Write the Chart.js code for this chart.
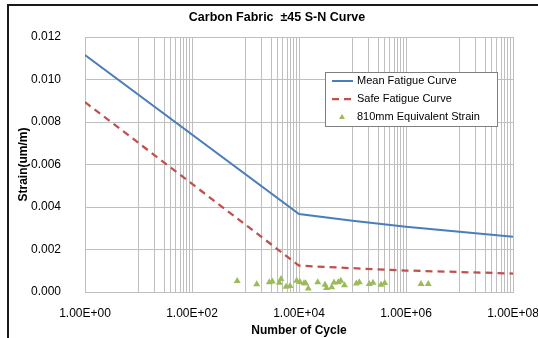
<!DOCTYPE html>
<html>
<head>
<meta charset="utf-8">
<title>Carbon Fabric ±45 S-N Curve</title>
<script src="https://cdn.jsdelivr.net/npm/chart.js@4/dist/chart.umd.min.js"></script>
<style>
  html, body { margin: 0; padding: 0; background: #fff; overflow: hidden; }
  #wrap { position: relative; width: 538px; height: 338px; }
  #chart { display: block; }
  /* outer frame of the original sheet, only top/left edges are visible */
  #frame { position: absolute; left: 7px; top: 4px; width: 600px; height: 400px;
           border-top: 2px solid #1a1a1a; border-left: 2px solid #1a1a1a; pointer-events: none; }
</style>
</head>
<body>
<div id="wrap">
  <canvas id="chart" width="538" height="338"></canvas>
  <div id="frame"></div>
</div>
<script>
// ============ DATA ============
const meanCycles = [1, 1e4, 1e5, 1e6, 1e7, 1e8];
const meanStrain = [0.01115, 0.00367, 0.00335, 0.00307, 0.00284, 0.00260];

const safeCycles = [1, 1e4, 1e5, 1e6, 1e7, 1e8];
const safeStrain = [0.00894, 0.00124, 0.00112, 0.00101, 0.00094, 0.00087];

// 810mm specimen, equivalent strain per test
const testCycles = [700, 1620, 2790, 3170, 4290, 4610, 5720, 6790, 9060, 10400,
                    12400, 13300, 14900, 22400, 30600, 32700, 40900, 45100, 54200, 60400,
                    70800, 118000, 134000, 206000, 242000, 341000, 400000, 1910000, 2610000];
const testStrain = [0.00052, 0.00036, 0.00046, 0.00049, 0.00044, 0.00061, 0.00025, 0.00028, 0.00053, 0.00047,
                    0.00041, 0.00041, 0.00017, 0.00046, 0.00034, 0.00019, 0.00022, 0.00045, 0.00046, 0.00053,
                    0.00032, 0.00040, 0.00046, 0.00038, 0.00044, 0.00034, 0.00042, 0.00038, 0.00038];

const majorTicks  = [1, 1e2, 1e4, 1e6, 1e8];
const minorSteps  = [1, 2, 3, 4, 5, 6, 7, 8, 9];   // x10 of each major
const strainTicks = [0, 0.002, 0.004, 0.006, 0.008, 0.010, 0.012];

// ============ HELPERS ============
const pts = (xs, ys) => xs.map((x, i) => ({ x: x, y: ys[i] }));

function sci(v) {
  const e = Math.round(Math.log10(v));
  return '1.00E' + (e < 0 ? '-' : '+') + String(Math.abs(e)).padStart(2, '0');
}

const cycleTicks = [];
majorTicks.forEach((m, i) => {
  cycleTicks.push(m);
  if (i < majorTicks.length - 1) minorSteps.forEach(k => cycleTicks.push(k * 10 * m));
});

const GRID = '#BFBFBF';
const FONT = "'Liberation Sans', Arial, sans-serif";
Chart.defaults.font.family = FONT;
Chart.defaults.color = '#000';

// ============ LEGEND (boxed, inside plot) ============
const boxedLegend = {
  id: 'boxedLegend',
  afterDraw(chart) {
    const ctx = chart.ctx;
    const bx = 325, by = 72, bw = 172, bh = 54;
    ctx.save();
    ctx.fillStyle = '#fff';
    ctx.fillRect(bx, by, bw, bh);
    ctx.strokeStyle = '#7F7F7F';
    ctx.lineWidth = 1;
    ctx.strokeRect(bx + 0.5, by + 0.5, bw, bh);

    ctx.font = '11px ' + FONT;
    ctx.textBaseline = 'middle';
    chart.data.datasets.forEach((ds, i) => {
      const cy = by + 9 + i * 18;
      if (ds.showLine) {
        ctx.strokeStyle = ds.borderColor;
        ctx.lineWidth = ds.borderWidth;
        ctx.setLineDash(ds.borderDash || []);
        ctx.beginPath();
        ctx.moveTo(bx + 7, cy);
        ctx.lineTo(bx + 28, cy);
        ctx.stroke();
        ctx.setLineDash([]);
      } else {
        ctx.fillStyle = ds.backgroundColor;
        ctx.beginPath();
        ctx.moveTo(bx + 17, cy - 3);
        ctx.lineTo(bx + 20, cy + 2);
        ctx.lineTo(bx + 14, cy + 2);
        ctx.closePath();
        ctx.fill();
      }
      ctx.fillStyle = '#000';
      ctx.fillText(ds.label, bx + 32, cy);
    });
    ctx.restore();
  }
};

// ============ CHART ============
new Chart(document.getElementById('chart'), {
  type: 'scatter',
  data: {
    datasets: [
      {
        label: 'Mean Fatigue Curve',
        data: pts(meanCycles, meanStrain),
        showLine: true,
        borderColor: '#4A7EBB',
        backgroundColor: '#4A7EBB',
        borderWidth: 2,
        pointRadius: 0,
      },
      {
        label: 'Safe Fatigue Curve',
        data: pts(safeCycles, safeStrain),
        showLine: true,
        borderColor: '#C0504D',
        backgroundColor: '#C0504D',
        borderWidth: 2.25,
        borderDash: [7, 5],
        pointRadius: 0,
      },
      {
        label: '810mm Equivalent Strain',
        data: pts(testCycles, testStrain),
        showLine: false,
        pointStyle: 'triangle',
        pointRadius: 4,
        borderWidth: 0,
        backgroundColor: '#9BBB59',
        borderColor: '#9BBB59',
      },
    ]
  },
  options: {
    responsive: false,
    animation: false,
    devicePixelRatio: 1,
    layout: { padding: { left: 16, right: 0, top: 0, bottom: 0 } },
    plugins: {
      legend: { display: false },
      tooltip: { enabled: false },
      title: {
        display: true,
        text: 'Carbon Fabric  \u00B145 S-N Curve',
        font: { size: 12.5, weight: 'bold' },
        padding: { top: 10, bottom: 12 },
      },
    },
    scales: {
      x: {
        type: 'logarithmic',
        min: 1,
        max: 1e8,
        afterBuildTicks: (s) => { s.ticks = cycleTicks.map(v => ({ value: v })); },
        afterFit: (s) => { s.height = 46; s.paddingLeft = 0; s.paddingRight = 0; },
        ticks: {
          autoSkip: false,
          maxRotation: 0,
          padding: 14,
          font: { size: 12 },
          callback: (v) => majorTicks.includes(v) ? sci(v) : '',
        },
        grid: { color: GRID, drawTicks: false },
        border: { color: GRID },
        title: {
          display: true,
          text: 'Number of Cycle',
          font: { size: 12, weight: 'bold' },
          padding: { top: 0, bottom: 0 },
        },
      },
      y: {
        min: 0,
        max: 0.012,
        afterBuildTicks: (s) => { s.ticks = strainTicks.map(v => ({ value: v })); },
        afterFit: (s) => { s.width = 69; },
        ticks: {
          padding: 24,
          font: { size: 12 },
          callback: (v) => v.toFixed(3),
        },
        grid: { color: GRID, drawTicks: false },
        border: { color: GRID },
        title: {
          display: true,
          text: 'Strain(um/m)',
          font: { size: 12, weight: 'bold' },
          padding: { top: 0, bottom: 0 },
        },
      },
      // empty right gutter so the plot ends where the original does
      y2: {
        position: 'right',
        display: true,
        grid: { display: false },
        border: { display: false },
        ticks: { display: false },
        afterFit: (s) => { s.width = 25; },
      },
    },
  },
  plugins: [boxedLegend],
});
</script>
</body>
</html>
